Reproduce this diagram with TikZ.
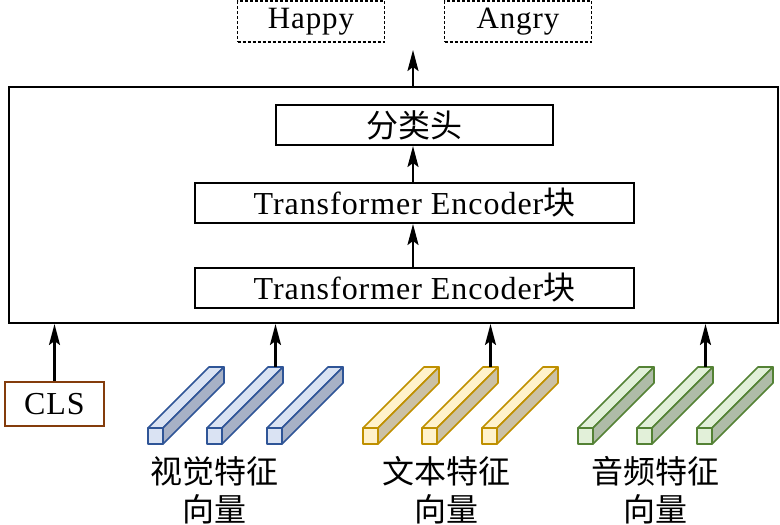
\documentclass[tikz,border=0pt]{standalone}
\usepackage{fontspec}
\setmainfont[LetterSpace=3]{Liberation Serif}
\newfontfamily\cjk{Noto Sans CJK SC}
\usepackage{pgf,tikz}
\usetikzlibrary{shapes, arrows.meta, positioning}
\definecolor{blueE}{HTML}{2F5597}
\definecolor{blueF}{HTML}{DAE3F3}
\definecolor{blueS}{HTML}{A7B1C6}
\definecolor{yellowE}{HTML}{BF9000}
\definecolor{yellowF}{HTML}{FFF2CC}
\definecolor{yellowS}{HTML}{CBC1A6}
\definecolor{greenE}{HTML}{548235}
\definecolor{greenF}{HTML}{E2F0D9}
\definecolor{greenS}{HTML}{AFBCA8}
\definecolor{clsE}{HTML}{843C0C}
\tikzstyle{kuang} = [draw=black, line width=2pt, rectangle, inner sep=0pt, font=\fontsize{32}{38}\selectfont]
\tikzstyle{biaoqian} = [draw=black, dash pattern=on 3pt off 2pt, line width=1.6pt, rectangle, inner sep=0pt, minimum width=147pt, minimum height=41pt, font=\fontsize{31}{36}\selectfont]
\tikzstyle{jiantou} = [line width=2.2pt, -{Stealth[length=21pt, width=11pt, inset=4pt]}]
\tikzstyle{mingcheng} = [align=center, font=\fontsize{32}{38}\selectfont\cjk]
\tikzstyle{tiaobian} = [line width=1.6pt, line join=round]
% one feature bar: x of front face, colour prefix, name of its top end
\newcommand{\tiao}[3]{%
	\filldraw[tiaobian, draw=#2E, fill=#2F] (#1,428) -- ++(15,0) -- ++(61,-61) -- ++(-15,0) -- cycle;
	\filldraw[tiaobian, draw=#2E, fill=#2S] (#1+15,428) -- ++(0,16) -- ++(61,-61) -- ++(0,-16) -- cycle;
	\filldraw[tiaobian, draw=#2E, fill=#2F] (#1,428) rectangle ++(15,16);
	\coordinate (#3) at (#1+68.5,367);
}
\begin{document}
\begin{tikzpicture}[x=1pt, y=-1pt]
	\useasboundingbox (0,0) rectangle (780,525);
	\node [kuang, minimum width=769pt, minimum height=236pt] (outer) at (393.5,205) {};
	\node [kuang, minimum width=439pt, minimum height=40pt] (enc1) at (414.5,288) {Transformer Encoder{\cjk 块}};
	\node [kuang, minimum width=439pt, minimum height=40pt] (enc2) at (414.5,203) {Transformer Encoder{\cjk 块}};
	\node [kuang, minimum width=277pt, minimum height=40pt, font=\fontsize{32}{38}\selectfont\cjk] (head) at (414.5,125) {分类头};
	\node [biaoqian] (happy) at (311,21.5) {Happy};
	\node [biaoqian] (angry) at (518,21.5) {Angry};
	\node [kuang, draw=clsE, line width=2.8pt, minimum width=99pt, minimum height=44pt] (cls) at (54.5,404) {CLS};
	\coordinate (out) at (413,50);

	\draw [jiantou] (enc1.north -| out) -- (enc2.south -| out);
	\draw [jiantou] (enc2.north -| out) -- (head.south -| out);
	\draw [jiantou] (outer.north -| out) -- (out);

	% feature bars
	\tiao{148}{blue}{v1}
	\tiao{207}{blue}{v2}
	\tiao{267}{blue}{v3}
	\tiao{363}{yellow}{t1}
	\tiao{422}{yellow}{t2}
	\tiao{482}{yellow}{t3}
	\tiao{578}{green}{a1}
	\tiao{637}{green}{a2}
	\tiao{697}{green}{a3}

	\draw [jiantou] (cls.north) -- (cls.north |- outer.south);
	\draw [jiantou] (v2) -- (v2 |- outer.south);
	\draw [jiantou] (t2) -- (t2 |- outer.south);
	\draw [jiantou] (a2) -- (a2 |- outer.south);

	\node [mingcheng] (vlab) at (214,490) {视觉特征\\向量};
	\node [mingcheng] (tlab) at (446,490) {文本特征\\向量};
	\node [mingcheng] (alab) at (655,490) {音频特征\\向量};
\end{tikzpicture}
\end{document}
